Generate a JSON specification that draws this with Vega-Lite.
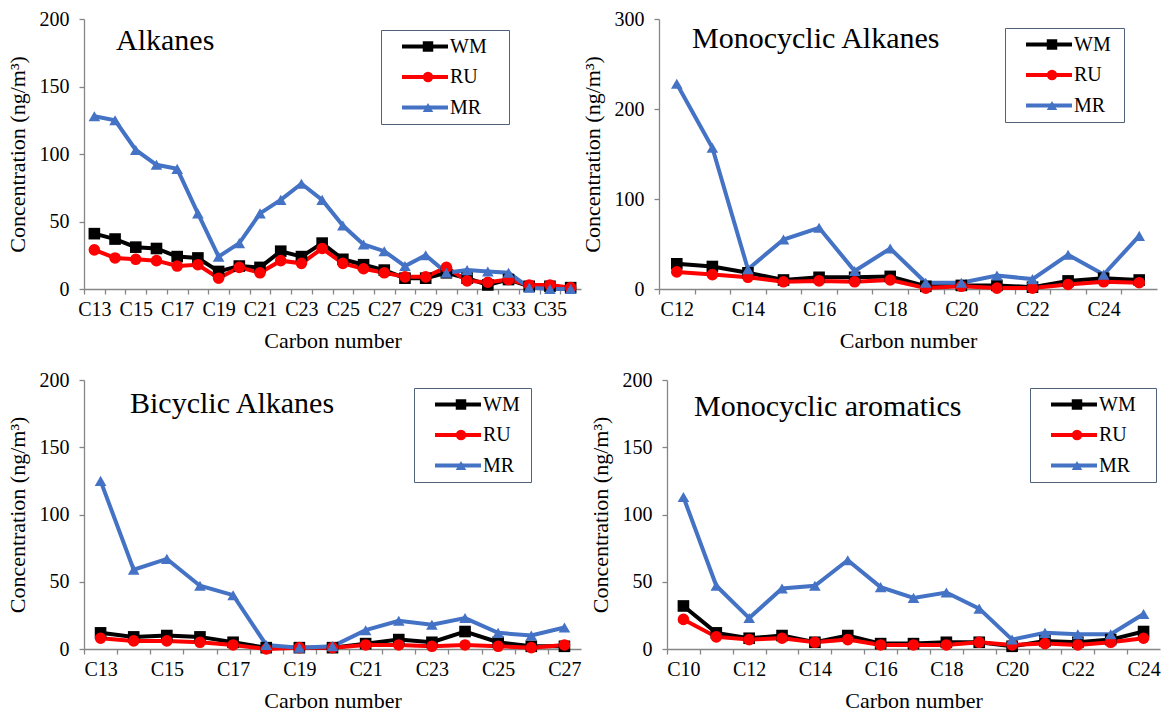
{
  "$schema": "https://vega.github.io/schema/vega-lite/v6.json",
  "padding": {"left": 6, "top": 9, "right": 0, "bottom": 0},
  "config": {
    "font": "Liberation Serif",
    "view": {"stroke": null},
    "axis": {"labelFont": "Liberation Serif", "titleFont": "Liberation Serif", "labelFontSize": 20, "titleFontSize": 22, "titleFontWeight": "normal", "labelColor": "#000000", "titleColor": "#000000", "domainColor": "#868686", "tickColor": "#868686", "grid": false, "tickSize": 5, "domainWidth": 1.3, "tickWidth": 1.3},
    "axisX": {"labelAngle": 0, "labelPadding": 5, "titlePadding": 11},
    "axisY": {"labelPadding": 10, "titlePadding": 10},
    "legend": {"orient": "none", "title": null, "labelFont": "Liberation Serif", "labelFontSize": 20, "labelColor": "#000000", "padding": 6.5, "rowPadding": 10.5},
    "title": {"anchor": "start", "frame": "group", "fontSize": 30, "fontWeight": "normal", "font": "Liberation Serif", "color": "#000000", "baseline": "middle"}
  },
  "datasets": {
    "alk": [
      {"c": "C13", "WM": 41, "RU": 29, "MR": 128},
      {"c": "C14", "WM": 37, "RU": 23, "MR": 125},
      {"c": "C15", "WM": 31, "RU": 22, "MR": 103},
      {"c": "C16", "WM": 30, "RU": 21, "MR": 92},
      {"c": "C17", "WM": 24, "RU": 17, "MR": 89},
      {"c": "C18", "WM": 23, "RU": 18, "MR": 56},
      {"c": "C19", "WM": 13, "RU": 8, "MR": 24},
      {"c": "C20", "WM": 17, "RU": 16, "MR": 34},
      {"c": "C21", "WM": 16, "RU": 12, "MR": 56},
      {"c": "C22", "WM": 28, "RU": 21, "MR": 66},
      {"c": "C23", "WM": 24, "RU": 19, "MR": 78},
      {"c": "C24", "WM": 34, "RU": 30, "MR": 66},
      {"c": "C25", "WM": 22, "RU": 19, "MR": 47},
      {"c": "C26", "WM": 18, "RU": 15, "MR": 33},
      {"c": "C27", "WM": 14, "RU": 12, "MR": 28},
      {"c": "C28", "WM": 8, "RU": 9, "MR": 17},
      {"c": "C29", "WM": 8, "RU": 9, "MR": 25},
      {"c": "C30", "WM": 12, "RU": 16, "MR": 12},
      {"c": "C31", "WM": 8, "RU": 6, "MR": 14},
      {"c": "C32", "WM": 3, "RU": 5, "MR": 13},
      {"c": "C33", "WM": 7, "RU": 7, "MR": 12},
      {"c": "C34", "WM": 2, "RU": 3, "MR": 1},
      {"c": "C35", "WM": 2, "RU": 3, "MR": 0},
      {"c": "C36", "WM": 1, "RU": 1, "MR": 0}
    ],
    "mono": [
      {"c": "C12", "WM": 28, "RU": 19, "MR": 228},
      {"c": "C13", "WM": 25, "RU": 16, "MR": 157},
      {"c": "C14", "WM": 18, "RU": 13, "MR": 22},
      {"c": "C15", "WM": 10, "RU": 8, "MR": 55},
      {"c": "C16", "WM": 13, "RU": 9, "MR": 68},
      {"c": "C17", "WM": 13, "RU": 8, "MR": 20},
      {"c": "C18", "WM": 14, "RU": 10, "MR": 45},
      {"c": "C19", "WM": 3, "RU": 1, "MR": 7},
      {"c": "C20", "WM": 4, "RU": 3, "MR": 7},
      {"c": "C21", "WM": 4, "RU": 1, "MR": 15},
      {"c": "C22", "WM": 2, "RU": 1, "MR": 11},
      {"c": "C23", "WM": 9, "RU": 5, "MR": 38},
      {"c": "C24", "WM": 12, "RU": 8, "MR": 16},
      {"c": "C25", "WM": 10, "RU": 7, "MR": 59}
    ],
    "bi": [
      {"c": "C13", "WM": 12, "RU": 8, "MR": 125},
      {"c": "C14", "WM": 9, "RU": 6, "MR": 59},
      {"c": "C15", "WM": 10, "RU": 6, "MR": 67},
      {"c": "C16", "WM": 9, "RU": 5, "MR": 47},
      {"c": "C17", "WM": 5, "RU": 3, "MR": 40},
      {"c": "C18", "WM": 1, "RU": 0, "MR": 3},
      {"c": "C19", "WM": 1, "RU": 1, "MR": 1},
      {"c": "C20", "WM": 1, "RU": 1, "MR": 2},
      {"c": "C21", "WM": 4, "RU": 3, "MR": 14},
      {"c": "C22", "WM": 7, "RU": 3, "MR": 21},
      {"c": "C23", "WM": 5, "RU": 2, "MR": 18},
      {"c": "C24", "WM": 13, "RU": 3, "MR": 23},
      {"c": "C25", "WM": 5, "RU": 2, "MR": 12},
      {"c": "C26", "WM": 2, "RU": 1, "MR": 10},
      {"c": "C27", "WM": 2, "RU": 3, "MR": 16}
    ],
    "arom": [
      {"c": "C10", "WM": 32, "RU": 22, "MR": 113},
      {"c": "C11", "WM": 12, "RU": 9, "MR": 47},
      {"c": "C12", "WM": 8, "RU": 7, "MR": 23},
      {"c": "C13", "WM": 10, "RU": 8, "MR": 45},
      {"c": "C14", "WM": 5, "RU": 5, "MR": 47},
      {"c": "C15", "WM": 10, "RU": 7, "MR": 66},
      {"c": "C16", "WM": 4, "RU": 3, "MR": 46},
      {"c": "C17", "WM": 4, "RU": 3, "MR": 38},
      {"c": "C18", "WM": 5, "RU": 3, "MR": 42},
      {"c": "C19", "WM": 5, "RU": 5, "MR": 30},
      {"c": "C20", "WM": 2, "RU": 3, "MR": 7},
      {"c": "C21", "WM": 6, "RU": 4, "MR": 12},
      {"c": "C22", "WM": 5, "RU": 3, "MR": 11},
      {"c": "C23", "WM": 7, "RU": 5, "MR": 11},
      {"c": "C24", "WM": 13, "RU": 8, "MR": 26}
    ]
  },
  "spacing": 19,
  "resolve": {
    "scale": {"color": "independent", "fill": "independent", "shape": "independent"},
    "legend": {"color": "independent", "fill": "independent", "shape": "independent"}
  },
  "vconcat": [
    {
      "spacing": 0,
      "resolve": {
        "scale": {"color": "independent", "fill": "independent", "shape": "independent"},
        "legend": {"color": "independent", "fill": "independent", "shape": "independent"}
      },
      "hconcat": [
        {
          "width": 497, "height": 270,
          "data": {"name": "alk"},
          "transform": [{"fold": ["WM", "RU", "MR"], "as": ["series", "v"]}],
          "title": {"text": "Alkanes", "dx": 32, "offset": -47},
          "encoding": {
            "x": {"field": "c", "type": "ordinal", "sort": null, "title": "Carbon number", "axis": {"tickOffset": -10.35, "labelOffset": 10.35, "labelExpr": "toNumber(slice(datum.value,1)) % 2 == 1 ? datum.value : ''"}},
            "y": {"field": "v", "type": "quantitative", "title": "Concentration (ng/m³)", "scale": {"domain": [0, 200]}, "axis": {"values": [0, 50, 100, 150, 200]}}
          },
          "layer": [
            {"mark": {"type": "line", "strokeWidth": 4},
             "encoding": {"color": {"field": "series", "type": "nominal", "scale": {"domain": ["MR", "RU", "WM"], "range": ["#4472C4", "#FF0000", "#000000"]},
               "legend": {"values": ["WM", "RU", "MR"], "legendX": 297, "legendY": 11, "symbolType": "M0.5625,0H6.3125", "symbolSize": 256, "symbolStrokeWidth": 4, "labelOffset": 42.5, "strokeColor": "#50617A", "title": " ", "titleOrient": "right", "titlePadding": 16}}}},
            {"mark": {"type": "point", "filled": true, "opacity": 1, "size": 135},
             "encoding": {
               "fill": {"field": "series", "type": "nominal", "scale": {"domain": ["WM", "RU", "MR"], "range": ["#000000", "#FF0000", "#4472C4"]}, "legend": {"values": ["WM", "RU", "MR"], "legendX": 327.5, "legendY": 11, "symbolSize": 110, "labelOpacity": 0, "labelExpr": "' '"}},
               "shape": {"field": "series", "type": "nominal", "scale": {"domain": ["WM", "RU", "MR"], "range": ["square", "circle", "triangle-up"]}, "legend": {"values": ["WM", "RU", "MR"], "legendX": 327.5, "legendY": 11, "symbolSize": 110, "labelOpacity": 0, "labelExpr": "' '"}}
             }}
          ]
        },
        {
          "width": 498, "height": 270,
          "data": {"name": "mono"},
          "transform": [{"fold": ["WM", "RU", "MR"], "as": ["series", "v"]}],
          "title": {"text": "Monocyclic Alkanes", "dx": 33, "offset": -45},
          "encoding": {
            "x": {"field": "c", "type": "ordinal", "sort": null, "title": "Carbon number", "axis": {"tickOffset": -17.79, "labelOffset": 17.79, "labelExpr": "toNumber(slice(datum.value,1)) % 2 == 0 ? datum.value : ''"}},
            "y": {"field": "v", "type": "quantitative", "title": "Concentration (ng/m³)", "scale": {"domain": [0, 300]}, "axis": {"values": [0, 100, 200, 300]}}
          },
          "layer": [
            {"mark": {"type": "line", "strokeWidth": 4},
             "encoding": {"color": {"field": "series", "type": "nominal", "scale": {"domain": ["MR", "RU", "WM"], "range": ["#4472C4", "#FF0000", "#000000"]},
               "legend": {"values": ["WM", "RU", "MR"], "legendX": 346, "legendY": 9, "symbolType": "M0.5625,0H6.3125", "symbolSize": 256, "symbolStrokeWidth": 4, "labelOffset": 42.5, "strokeColor": "#50617A", "title": " ", "titleOrient": "right", "titlePadding": 7}}}},
            {"mark": {"type": "point", "filled": true, "opacity": 1, "size": 135},
             "encoding": {
               "fill": {"field": "series", "type": "nominal", "scale": {"domain": ["WM", "RU", "MR"], "range": ["#000000", "#FF0000", "#4472C4"]}, "legend": {"values": ["WM", "RU", "MR"], "legendX": 376.5, "legendY": 9, "symbolSize": 110, "labelOpacity": 0, "labelExpr": "' '"}},
               "shape": {"field": "series", "type": "nominal", "scale": {"domain": ["WM", "RU", "MR"], "range": ["square", "circle", "triangle-up"]}, "legend": {"values": ["WM", "RU", "MR"], "legendX": 376.5, "legendY": 9, "symbolSize": 110, "labelOpacity": 0, "labelExpr": "' '"}}
             }}
          ]
        }
      ]
    },
    {
      "spacing": 7,
      "resolve": {
        "scale": {"color": "independent", "fill": "independent", "shape": "independent"},
        "legend": {"color": "independent", "fill": "independent", "shape": "independent"}
      },
      "hconcat": [
        {
          "width": 497, "height": 269,
          "data": {"name": "bi"},
          "transform": [{"fold": ["WM", "RU", "MR"], "as": ["series", "v"]}],
          "title": {"text": "Bicyclic Alkanes", "dx": 46, "offset": -49},
          "encoding": {
            "x": {"field": "c", "type": "ordinal", "sort": null, "title": "Carbon number", "axis": {"tickOffset": -16.57, "labelOffset": 16.57, "labelExpr": "toNumber(slice(datum.value,1)) % 2 == 1 ? datum.value : ''"}},
            "y": {"field": "v", "type": "quantitative", "title": "Concentration (ng/m³)", "scale": {"domain": [0, 200]}, "axis": {"values": [0, 50, 100, 150, 200]}}
          },
          "layer": [
            {"mark": {"type": "line", "strokeWidth": 4},
             "encoding": {"color": {"field": "series", "type": "nominal", "scale": {"domain": ["MR", "RU", "WM"], "range": ["#4472C4", "#FF0000", "#000000"]},
               "legend": {"values": ["WM", "RU", "MR"], "legendX": 330, "legendY": 8, "symbolType": "M0.5625,0H6.3125", "symbolSize": 256, "symbolStrokeWidth": 4, "labelOffset": 42.5, "strokeColor": "#50617A", "title": " ", "titleOrient": "right", "titlePadding": 5}}}},
            {"mark": {"type": "point", "filled": true, "opacity": 1, "size": 135},
             "encoding": {
               "fill": {"field": "series", "type": "nominal", "scale": {"domain": ["WM", "RU", "MR"], "range": ["#000000", "#FF0000", "#4472C4"]}, "legend": {"values": ["WM", "RU", "MR"], "legendX": 360.5, "legendY": 8, "symbolSize": 110, "labelOpacity": 0, "labelExpr": "' '"}},
               "shape": {"field": "series", "type": "nominal", "scale": {"domain": ["WM", "RU", "MR"], "range": ["square", "circle", "triangle-up"]}, "legend": {"values": ["WM", "RU", "MR"], "legendX": 360.5, "legendY": 8, "symbolSize": 110, "labelOpacity": 0, "labelExpr": "' '"}}
             }}
          ]
        },
        {
          "width": 493, "height": 269,
          "data": {"name": "arom"},
          "transform": [{"fold": ["WM", "RU", "MR"], "as": ["series", "v"]}],
          "title": {"text": "Monocyclic aromatics", "dx": 27, "offset": -52},
          "encoding": {
            "x": {"field": "c", "type": "ordinal", "sort": null, "title": "Carbon number", "axis": {"tickOffset": -16.43, "labelOffset": 16.43, "labelExpr": "toNumber(slice(datum.value,1)) % 2 == 0 ? datum.value : ''"}},
            "y": {"field": "v", "type": "quantitative", "title": "Concentration (ng/m³)", "scale": {"domain": [0, 200]}, "axis": {"values": [0, 50, 100, 150, 200]}}
          },
          "layer": [
            {"mark": {"type": "line", "strokeWidth": 4},
             "encoding": {"color": {"field": "series", "type": "nominal", "scale": {"domain": ["MR", "RU", "WM"], "range": ["#4472C4", "#FF0000", "#000000"]},
               "legend": {"values": ["WM", "RU", "MR"], "legendX": 363, "legendY": 8, "symbolType": "M0.5625,0H6.3125", "symbolSize": 256, "symbolStrokeWidth": 4, "labelOffset": 42.5, "strokeColor": "#50617A", "title": " ", "titleOrient": "right", "titlePadding": 14}}}},
            {"mark": {"type": "point", "filled": true, "opacity": 1, "size": 135},
             "encoding": {
               "fill": {"field": "series", "type": "nominal", "scale": {"domain": ["WM", "RU", "MR"], "range": ["#000000", "#FF0000", "#4472C4"]}, "legend": {"values": ["WM", "RU", "MR"], "legendX": 393.5, "legendY": 8, "symbolSize": 110, "labelOpacity": 0, "labelExpr": "' '"}},
               "shape": {"field": "series", "type": "nominal", "scale": {"domain": ["WM", "RU", "MR"], "range": ["square", "circle", "triangle-up"]}, "legend": {"values": ["WM", "RU", "MR"], "legendX": 393.5, "legendY": 8, "symbolSize": 110, "labelOpacity": 0, "labelExpr": "' '"}}
             }}
          ]
        }
      ]
    }
  ]
}
